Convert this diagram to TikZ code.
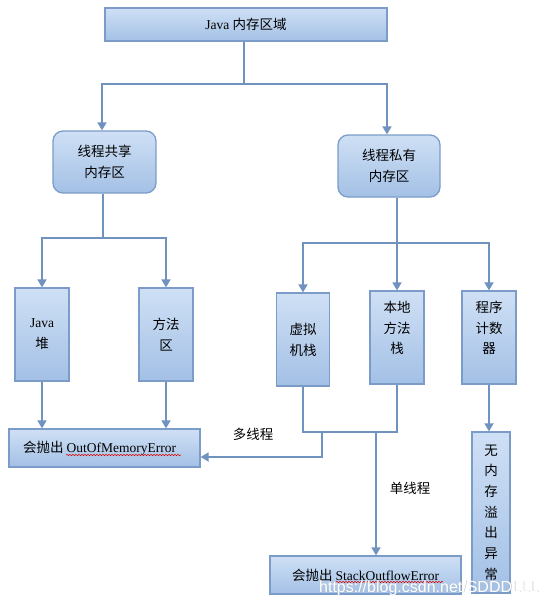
\documentclass[tikz,border=0pt]{standalone}
\usepackage{fontspec}
\setmainfont{Liberation Serif}
\newfontfamily\cjk{Noto Sans CJK SC}
\newfontfamily\wmfont{Liberation Sans}
\usetikzlibrary{arrows.meta,decorations.pathmorphing}
\definecolor{boxtop}{HTML}{CFE0F5}
\definecolor{boxbot}{HTML}{A3C0E5}
\definecolor{boxline}{HTML}{7B9CC8}
\definecolor{conn}{HTML}{6F92BF}
\begin{document}
\begin{tikzpicture}[x=1pt,y=-1pt,
  box/.style={draw=boxline, line width=1.3pt, top color=boxtop, bottom color=boxbot,
    inner sep=0pt, align=center, font=\cjk\fontsize{13.5}{21}\selectfont},
  rbox/.style={box, rounded corners=10pt},
  link/.style={draw=conn, line width=1.7pt},
  arr/.style={link, -{Triangle[length=8pt,width=9pt]}},
  arrtwo/.style={link, {Triangle[length=8pt,width=9pt]}-{Triangle[length=8pt,width=9pt]}},
  lbl/.style={font=\cjk\fontsize{13.5}{20.7}\selectfont, inner sep=0pt, align=center},
  squig/.style={draw=red!85!black, line width=0.5pt, decorate,
    decoration={snake, amplitude=0.7pt, segment length=3pt}}]
\useasboundingbox (0,0) rectangle (548,608);
\fill[white] (0,0) rectangle (548,608);

% nodes
\node[box, minimum width=282pt, minimum height=33pt] (top) at (246,24.5)
  {{\rmfamily Java} 内存区域};
\node[rbox, minimum width=103pt, minimum height=62pt] (share) at (104.5,162)
  {线程共享\\内存区};
\node[rbox, minimum width=102pt, minimum height=62pt] (priv) at (389,166)
  {线程私有\\内存区};
\node[box, minimum width=54pt, minimum height=93pt] (heap) at (42,334.5)
  {{\rmfamily Java}\\堆};
\node[box, minimum width=54pt, minimum height=93pt] (method) at (166,334.5)
  {方法\\区};
\node[box, minimum width=53pt, minimum height=93pt] (vms) at (303,339.5)
  {虚拟\\机栈};
\node[box, minimum width=54pt, minimum height=93pt] (native) at (397,337.5) {};
\node[lbl] (nativetxt) at (397,328) {本地\\方法\\栈};
\node[box, minimum width=54pt, minimum height=93pt] (pc) at (489,337.5) {};
\node[lbl] (pctxt) at (489,328) {程序\\计数\\器};
\node[box, minimum width=191pt, minimum height=38pt] (oom) at (104.5,448)
  {\hspace*{-10pt}会抛出 {\rmfamily OutOfMemoryError}};
\node[box, minimum width=191pt, minimum height=38pt] (so) at (365.5,575)
  {会抛出 {\rmfamily StackOutflowError}};
\node[box, minimum width=38pt, minimum height=161pt,
  font=\cjk\fontsize{13.5}{20.7}\selectfont] (nov) at (491,512.5)
  {无\\内\\存\\溢\\出\\异\\常};

% junction coordinates
\coordinate (j0) at (244,84);
\coordinate (jL) at (102,84);
\coordinate (jR) at (387,84);
\coordinate (k0) at (103,238);
\coordinate (m0) at (396,243);
\coordinate (n0) at (0,432);
\coordinate (mt) at (322,432);
\coordinate (mtb) at (322,457);
\coordinate (st) at (376,432);

% level 1
\draw[link] (top.south -| j0) -- (j0);
\draw[arrtwo] (jL |- share.north) -- (jL) -- (jR) -- (jR |- priv.north);

% level 2 left
\draw[link] (share.south -| k0) -- (k0);
\draw[arrtwo] (heap.north) |- (method.north |- k0) -- (method.north);

% level 2 right
\draw[link] (priv.south -| native.north) -- (native.north |- m0);
\draw[arrtwo] (vms.north) |- (pc.north |- m0) -- (pc.north);
\draw[arr] (native.north |- m0) -- (native.north);

% level 3
\draw[arr] (heap.south) -- (heap.south |- oom.north);
\draw[arr] (method.south) -- (method.south |- oom.north);
\draw[link] (vms.south) |- (native.south |- n0) -- (native.south);
\draw[arr] (mt) |- (oom.east |- mtb);
\draw[arr] (st) -- (st |- so.north);
\draw[arr] (pc.south) -- (pc.south |- nov.north);

% labels
\node[lbl] (multi) at (253,434) {多线程};
\node[lbl] (single) at (410,488) {单线程};

% spell-check squiggles
\draw[squig] (66,455) -- (181,455);
\draw[squig] (336,582) -- (443,582);

% watermark
\node[font=\wmfont\fontsize{16}{16}\selectfont, text=gray!55, opacity=0.7, inner sep=0pt]
  (wmshadow) at (429.7,588.7) {https://blog.csdn.net/SDDDLLL};
\node[font=\wmfont\fontsize{16}{16}\selectfont, text=white, inner sep=0pt]
  (wm) at (429,588) {https://blog.csdn.net/SDDDLLL};
\end{tikzpicture}
\end{document}
